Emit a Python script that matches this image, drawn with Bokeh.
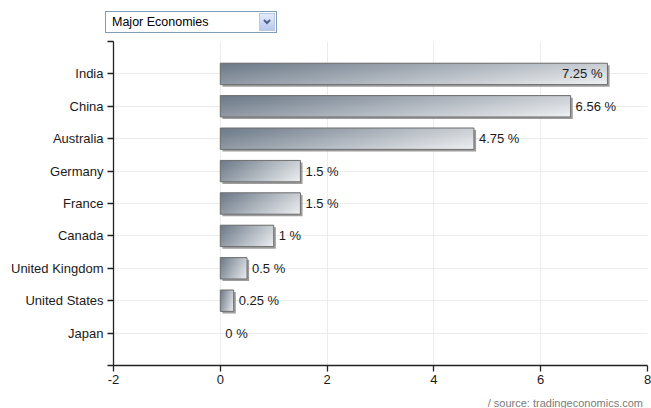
import numpy as np
from bokeh.plotting import figure
from bokeh.models import FixedTicker, Range1d, Div
from bokeh.layouts import column
from bokeh.core.properties import value
from bokeh.embed import file_html
from bokeh.resources import INLINE

# ---- data ----
countries = ["India", "China", "Australia", "Germany", "France", "Canada",
             "United Kingdom", "United States", "Japan"]
rates = [7.25, 6.56, 4.75, 1.5, 1.5, 1.0, 0.5, 0.25, 0.0]
value_labels = ["7.25 %", "6.56 %", "4.75 %", "1.5 %", "1.5 %", "1 %",
                "0.5 %", "0.25 %", "0 %"]
x_ticks = [-2, 0, 2, 4, 6, 8]
x_tick_labels = ["-2", "0", "2", "4", "6", "8"]
dropdown_text = "Major Economies"
source_text = "/ source: tradingeconomics.com"

FONT = "Liberation Sans"
n = len(countries)
ypos = [n - i for i in range(n)]          # India on top
bar_h = 0.66

p = figure(width=651, height=359, x_range=Range1d(-2, 8), y_range=Range1d(0, n + 1),
           output_backend="svg", toolbar_location=None,
           min_border_left=113, min_border_right=4, min_border_top=8, min_border_bottom=27)
p.outline_line_color = None
p.background_fill_color = "white"
p.border_fill_color = "white"

# axes
p.xaxis.ticker = FixedTicker(ticks=x_ticks)
p.xaxis.major_label_overrides = {t: s for t, s in zip(x_ticks, x_tick_labels)}
p.yaxis.ticker = FixedTicker(ticks=list(range(0, n + 2)))
overrides = {0: "", n + 1: ""}
for c, yv in zip(countries, ypos):
    overrides[yv] = c
p.yaxis.major_label_overrides = overrides
for ax in (p.xaxis[0], p.yaxis[0]):
    ax.axis_line_color = "#222222"
    ax.axis_line_width = 1.3
    ax.major_tick_line_color = "#222222"
    ax.major_tick_line_width = 1.3
    ax.major_tick_in = 0
    ax.major_tick_out = 6
    ax.minor_tick_line_color = None
    ax.major_label_text_font = FONT
    ax.major_label_text_font_size = "13px"
    ax.major_label_text_color = "#1a1a1a"
p.yaxis.major_label_standoff = 4
p.xaxis.major_label_standoff = 3

p.xgrid.ticker = FixedTicker(ticks=x_ticks)
p.ygrid.ticker = FixedTicker(ticks=list(range(0, n + 2)))
p.xgrid.grid_line_color = "#ececec"
p.ygrid.grid_line_color = "#ececec"

# bars (non-zero only)
idx = [i for i, v in enumerate(rates) if v > 0]
bx = [rates[i] for i in idx]
by = [ypos[i] for i in idx]
dx, dy = 0.04, 0.065  # shadow offset (~2px)

p.hbar(y=[y - dy for y in by], left=[dx] * len(bx), right=[v + dx for v in bx],
       height=bar_h, fill_color="#8c8c8c", fill_alpha=0.85, line_color=None)

# gradient image (dark top-left -> light bottom-right)
H, W = 24, 256
u = np.linspace(0, 1, W)[None, :]
vtop = 1 - np.linspace(0, 1, H)[:, None]
t = np.clip(0.72 * u + 0.28 * vtop, 0, 1)
dark = np.array([0x6c, 0x79, 0x88])
light = np.array([0xee, 0xf0, 0xf2])
img = np.empty((H, W), dtype=np.uint32)
view = img.view(dtype=np.uint8).reshape((H, W, 4))
for k in range(3):
    view[:, :, k] = (dark[k] + (light[k] - dark[k]) * t).astype(np.uint8)
view[:, :, 3] = 255

p.hbar(y=by, left=0, right=bx, height=bar_h, fill_color="#a9b2bc", line_color=None)
p.image_rgba(image=[img] * len(bx), x=[0] * len(bx), y=[y - bar_h / 2 for y in by],
             dw=bx, dh=[bar_h] * len(bx))
p.hbar(y=by, left=0, right=bx, height=bar_h, fill_alpha=0, line_color="#6e6e6e",
       line_width=1)

# value labels
inside = [i for i, v in enumerate(rates) if v >= 7]
outside = [i for i, v in enumerate(rates) if v < 7]
p.text(x=[rates[i] for i in outside], y=[ypos[i] for i in outside],
       text=[value_labels[i] for i in outside], x_offset=5,
       text_align="left", text_baseline="middle", text_font=value(FONT),
       text_font_size="13px", text_color="#1a1a1a")
p.text(x=[rates[i] for i in inside], y=[ypos[i] for i in inside],
       text=[value_labels[i] for i in inside], x_offset=-5,
       text_align="right", text_baseline="middle", text_font=value(FONT),
       text_font_size="13px", text_color="#1a1a1a")

html = (
    '<div style="position:relative;box-sizing:border-box;width:172px;height:22px;'
    'border:1px solid #7f9db9;background:#fff;font-family:\'Liberation Sans\',Arial,sans-serif;'
    'font-size:12.5px;line-height:20px;padding-left:6px;color:#000;">'
    + dropdown_text +
    '<div style="position:absolute;right:1px;top:1px;width:16px;height:18px;box-sizing:border-box;'
    'border:1px solid #b9c9ea;background:linear-gradient(#e3eafa,#b7c8ee);">'
    '<svg width="14" height="16" style="position:absolute;left:0;top:0">'
    '<polyline points="4,6 7,9 10,6" fill="none" stroke="#4a5f85" stroke-width="2"/></svg>'
    '</div></div>'
)
div = Div(text=html, width=172, height=22, margin=(11, 0, 0, 105))

src_html = (
    '<div style="box-sizing:border-box;width:651px;height:16px;text-align:right;'
    'padding-right:8px;padding-top:6px;font-family:\'Liberation Sans\',Arial,sans-serif;'
    'font-size:11px;line-height:11px;color:#7a7a7a;white-space:nowrap;">'
    + source_text + '</div>'
)
src_div = Div(text=src_html, width=651, height=16, margin=(0, 0, 0, 0))

layout = column(div, p, src_div, spacing=0)
open("out.html", "w").write(file_html(layout, INLINE))
